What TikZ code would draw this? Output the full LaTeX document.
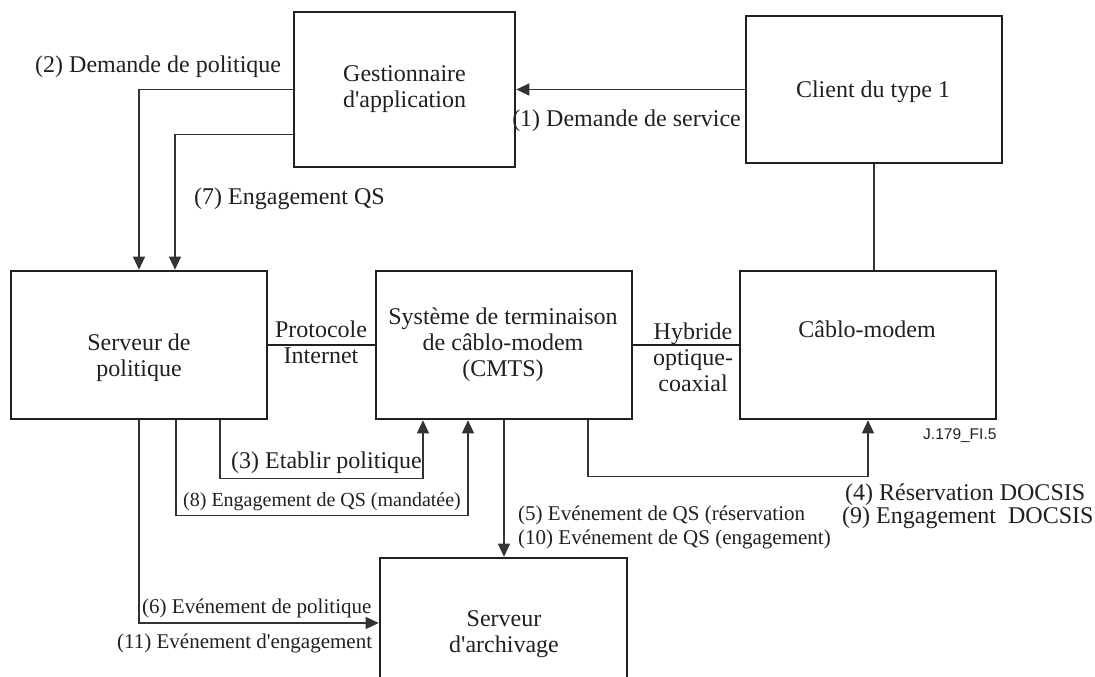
\documentclass[tikz,border=0pt]{standalone}
\usepackage{fontspec}
\setmainfont{Liberation Serif}[Ligatures=TeXOff]
\newfontfamily\figsans{Liberation Sans}
\usetikzlibrary{arrows.meta,calc}
\definecolor{ink}{HTML}{231F20}
\definecolor{wirecol}{HTML}{333333}
\begin{document}
\begin{tikzpicture}[x=1pt,y=-1pt,
  block/.style={draw=ink,line width=2.6pt,inner sep=0pt,rectangle},
  txt/.style={font=\fontsize{24}{26}\selectfont,inner sep=0pt,align=center,text=ink},
  lab/.style={font=\fontsize{24}{26}\selectfont,inner sep=0pt,text=ink},
  slab/.style={font=\fontsize{21}{23}\selectfont,inner sep=0pt,text=ink},
  wire/.style={draw=wirecol,line width=1.2pt},
  link/.style={draw=ink,line width=2pt},
  arr/.style={wire,-{Triangle[length=13pt,width=12pt]}}]
\useasboundingbox (0,0) rectangle (1095,677);

% boxes
\node[block,minimum width=221pt,minimum height=155pt] (gest) at (404.5,89.5) {};
\node[block,minimum width=256pt,minimum height=147pt] (client) at (874,89.5) {};
\node[block,minimum width=256pt,minimum height=148pt] (srv) at (139,345) {};
\node[block,minimum width=256pt,minimum height=148pt] (cmts) at (504,345) {};
\node[block,minimum width=256pt,minimum height=148pt] (cm) at (868,345) {};
\begin{scope}
  \clip (0,0) rectangle (1095,677);
  \node[block,minimum width=247pt,minimum height=130pt] (arch) at (503.5,623) {};
\end{scope}

% box texts
\node[txt] (tgest) at (404.5,89.4) {Gestionnaire\\d'application};
\node[txt] (tclient) at (873,91.4) {Client du type 1};
\node[txt] (tsrv) at (139,357.5) {Serveur de\\politique};
\node[txt] (tcmts) at (503,344.5) {Système de terminaison\\de câblo-modem\\(CMTS)};
\node[txt] (tcm) at (867,328.8) {Câblo-modem};
\node[txt] (tarch) at (504,634.6) {Serveur\\d'archivage};

% links between boxes
\draw[arr] (client.west) -- (gest.east);
\draw[arr] (gest.west) -| (srv.north);
\draw[arr] ($(gest.west)+(0,45)$) -| ($(srv.north)+(36,0)$);
\draw[link] (srv.east) -- (cmts.west);
\draw[link] (cmts.east) -- (cm.west);
\draw[wire] (client.south) -- (client.south |- cm.north);
\draw[arr] ($(srv.south)+(81,0)$) -- ++(0,58) -| ($(cmts.south)+(-81,0)$);
\draw[arr] ($(srv.south)+(37,0)$) -- ++(0,95) -| ($(cmts.south)+(-36,0)$);
\draw[arr] (srv.south) |- (arch.west);
\draw[arr] (cmts.south) -- (cmts.south |- arch.north);
\draw[arr] ($(cmts.south)+(84,0)$) -- ++(0,56) -| (cm.south);

% link texts
\node[txt] (tip) at (321,341.8) {Protocole\\Internet};
\node[txt] (thfc) at (693,356.8) {Hybride\\optique-\\coaxial};

% message labels
\node[lab,anchor=base east] (l1) at (741,126) {(1) Demande de service};
\node[lab,anchor=base west] (l2) at (35,72.5) {(2) Demande de politique};
\node[lab,anchor=base west] (l7) at (194,204) {(7) Engagement QS};
\node[lab,anchor=base east] (l3) at (422,468) {(3) Etablir politique};
\node[slab,font=\fontsize{20}{22}\selectfont,anchor=base west] (l8) at (183,506) {(8) Engagement de QS (mandatée)};
\node[slab,anchor=base west] (l6) at (142,613) {(6) Evénement de politique};
\node[slab,anchor=base west] (l11) at (117,648) {(11) Evénement d'engagement};
\node[slab,anchor=base west] (l5) at (518,520) {(5) Evénement de QS (réservation};
\node[slab,anchor=base west] (l10) at (518,544) {(10) Evénement de QS (engagement)};
\node[lab,anchor=base west] (l4) at (845,500) {(4) Réservation DOCSIS};
\node[lab,anchor=base west] (l9) at (842,523) {(9) Engagement\ \ DOCSIS};
\node[inner sep=0pt,anchor=base west,text=ink,font=\figsans\fontsize{15.5}{17}\selectfont] (ref) at (923,439) {J.179\_FI.5};
\end{tikzpicture}
\end{document}
